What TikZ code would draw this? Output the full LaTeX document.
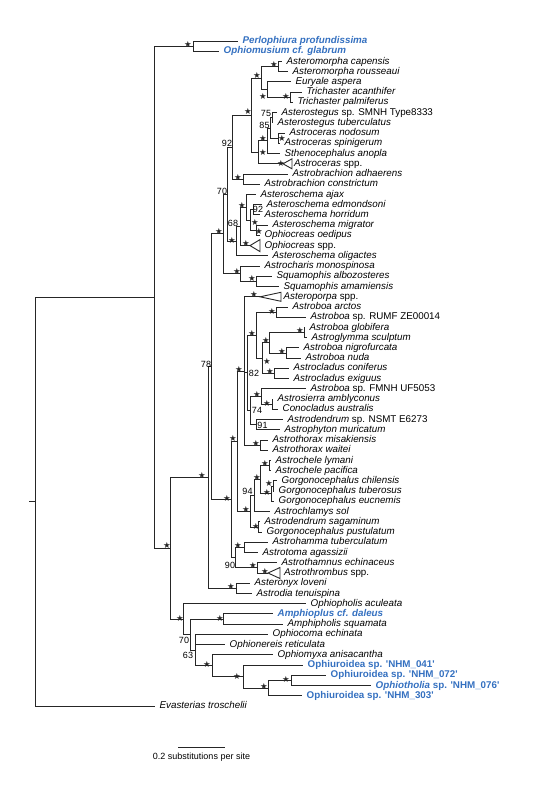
\documentclass[tikz,border=0pt]{standalone}
\usepackage{fontspec}
\setmainfont{Liberation Sans}
\newfontfamily\lab{Liberation Sans}
\newfontfamily\symf{DejaVu Sans}
\usetikzlibrary{calc}
\definecolor{tblue}{RGB}{52,112,192}
\newcommand\nd[4]{\path ($(#3)!.5!(#4)$) coordinate (#1QQ); \coordinate (#1) at (#2,0 |- #1QQ);}
\newcommand\ed[2]{\draw[br] (#1) |- (#2);}
\begin{document}
\begin{tikzpicture}[x=1pt,y=-1pt,
 br/.style={draw=black!85,line width=0.9pt},
 tip/.style={anchor=west,inner xsep=4.5pt,inner ysep=0pt,text height=6.8pt,text depth=1.8pt,font=\lab\fontsize{9.8}{11}\selectfont},
 bl/.style={tip,text=tblue},
 st/.style={inner sep=0pt,font=\symf\fontsize{8.5}{8.5}\selectfont,text=black!85},
 num/.style={inner sep=0pt,font=\lab\fontsize{9}{10}\selectfont}]
\useasboundingbox (0,0) rectangle (557,801);
% ---------- leaves ----------
\node[bl] (l1) at (238,41.0) {\textbf{\textit{Perlophiura profundissima}}};
\node[bl] (l2) at (219,51.2) {\textbf{\textit{Ophiomusium cf. glabrum}}};
\node[tip] (l3) at (282,61.5) {\textit{Asteromorpha capensis}};
\node[tip] (l4) at (288,71.7) {\textit{Asteromorpha rousseaui}};
\node[tip] (l5) at (291,81.9) {\textit{Euryale aspera}};
\node[tip] (l6) at (302,92.2) {\textit{Trichaster acanthifer}};
\node[tip] (l7) at (293,102.4) {\textit{Trichaster palmiferus}};
\node[tip] (l8) at (277,112.6) {\textit{Asterostegus} sp. SMNH Type8333};
\node[tip] (l9) at (273,122.8) {\textit{Asterostegus tuberculatus}};
\node[tip] (l10) at (285,133.1) {\textit{Astroceras nodosum}};
\node[tip] (l11) at (280,143.3) {\textit{Astroceras spinigerum}};
\node[tip] (l12) at (280,153.5) {\textit{Sthenocephalus anopla}};
\coordinate (a13) at (283,163.8);
\draw[br] (a13) -- (292,158.8) -- (292,168.8) -- cycle;
\node[tip,inner xsep=2pt] (l13) at (292,163.8) {\textit{Astroceras} spp.};
\node[tip] (l14) at (288,174.0) {\textit{Astrobrachion adhaerens}};
\node[tip] (l15) at (260,184.2) {\textit{Astrobrachion constrictum}};
\node[tip] (l16) at (256,194.5) {\textit{Asteroschema ajax}};
\node[tip] (l17) at (262,204.7) {\textit{Asteroschema edmondsoni}};
\node[tip] (l18) at (260,214.9) {\textit{Asteroschema horridum}};
\node[tip] (l19) at (268,225.2) {\textit{Asteroschema migrator}};
\node[tip] (l20) at (260,235.4) {\textit{Ophiocreas oedipus}};
\coordinate (a21) at (250,245.6);
\draw[br] (a21) -- (260,239.6) -- (260,251.6) -- cycle;
\node[tip] (l21) at (260,245.6) {\textit{Ophiocreas} spp.};
\node[tip] (l22) at (268,255.8) {\textit{Asteroschema oligactes}};
\node[tip] (l23) at (260,266.1) {\textit{Astrocharis monospinosa}};
\node[tip] (l24) at (272,276.3) {\textit{Squamophis albozosteres}};
\node[tip] (l25) at (279,286.5) {\textit{Squamophis amamiensis}};
\coordinate (a26) at (260,296.8);
\draw[br] (a26) -- (281,292.3) -- (281,301.3) -- cycle;
\node[tip,inner xsep=2.5pt] (l26) at (281,296.8) {\textit{Asteroporpa} spp.};
\node[tip] (l27) at (288,307.0) {\textit{Astroboa arctos}};
\node[tip] (l28) at (306,317.2) {\textit{Astroboa} sp. RUMF ZE00014};
\node[tip] (l29) at (305,327.5) {\textit{Astroboa globifera}};
\node[tip] (l30) at (307,337.7) {\textit{Astroglymma sculptum}};
\node[tip] (l31) at (299,347.9) {\textit{Astroboa nigrofurcata}};
\node[tip] (l32) at (301,358.2) {\textit{Astroboa nuda}};
\node[tip] (l33) at (289,368.4) {\textit{Astrocladus coniferus}};
\node[tip] (l34) at (289,378.6) {\textit{Astrocladus exiguus}};
\node[tip] (l35) at (306,388.8) {\textit{Astroboa} sp. FMNH UF5053};
\node[tip] (l36) at (273,399.1) {\textit{Astrosierra amblyconus}};
\node[tip] (l37) at (278,409.3) {\textit{Conocladus australis}};
\node[tip] (l38) at (283,419.5) {\textit{Astrodendrum} sp. NSMT E6273};
\node[tip] (l39) at (280,429.8) {\textit{Astrophyton muricatum}};
\node[tip] (l40) at (268,440.0) {\textit{Astrothorax misakiensis}};
\node[tip] (l41) at (268,450.2) {\textit{Astrothorax waitei}};
\node[tip] (l42) at (271,460.5) {\textit{Astrochele lymani}};
\node[tip] (l43) at (271,470.7) {\textit{Astrochele pacifica}};
\node[tip] (l44) at (277,480.9) {\textit{Gorgonocephalus chilensis}};
\node[tip] (l45) at (274,491.2) {\textit{Gorgonocephalus tuberosus}};
\node[tip] (l46) at (274,501.4) {\textit{Gorgonocephalus eucnemis}};
\node[tip] (l47) at (270,511.6) {\textit{Astrochlamys sol}};
\node[tip] (l48) at (260,521.8) {\textit{Astrodendrum sagaminum}};
\node[tip] (l49) at (262,532.1) {\textit{Gorgonocephalus pustulatum}};
\node[tip] (l50) at (268,542.3) {\textit{Astrohamma tuberculatum}};
\node[tip] (l51) at (258,552.5) {\textit{Astrotoma agassizii}};
\node[tip] (l52) at (277,562.8) {\textit{Astrothamnus echinaceus}};
\coordinate (a53) at (268,573.0);
\draw[br] (a53) -- (280,567.5) -- (280,578.5) -- cycle;
\node[tip,inner xsep=4pt] (l53) at (280,573.0) {\textit{Astrothrombus} spp.};
\node[tip] (l54) at (250,583.2) {\textit{Asteronyx loveni}};
\node[tip] (l55) at (252,593.5) {\textit{Astrodia tenuispina}};
\node[tip] (l56) at (306,603.7) {\textit{Ophiopholis aculeata}};
\node[bl] (l57) at (273,613.9) {\textbf{\textit{Amphioplus cf. daleus}}};
\node[tip] (l58) at (283,624.2) {\textit{Amphipholis squamata}};
\node[tip] (l59) at (268,634.4) {\textit{Ophiocoma echinata}};
\node[tip] (l60) at (225,644.6) {\textit{Ophionereis reticulata}};
\node[tip] (l61) at (273,654.8) {\textit{Ophiomyxa anisacantha}};
\node[bl] (l62) at (303,665.1) {\textbf{Ophiuroidea sp. 'NHM\_041'}};
\node[bl] (l63) at (326,675.3) {\textbf{Ophiuroidea sp. 'NHM\_072'}};
\node[bl] (l64) at (371,685.5) {\textbf{\textit{Ophiotholia} sp. 'NHM\_076'}};
\node[bl] (l65) at (302,695.8) {\textbf{Ophiuroidea sp. 'NHM\_303'}};
\node[tip] (l66) at (155,706.0) {\textit{Evasterias troschelii}};
% ---------- internal nodes ----------
\nd{n2}{193}{l1.west}{l2.west}
\nd{nam}{278}{l3.west}{l4.west}
\nd{ntr}{290}{l6.west}{l7.west}
\nd{net}{267}{l5.west}{ntr}
\nd{nq}{261}{nam}{net}
\nd{nas}{272}{l8.west}{l9.west}
\nd{nac}{278}{l10.west}{l11.west}
\nd{nz}{270}{nas}{nac}
\nd{nwa}{267}{nz}{l12.west}
\nd{nx}{258}{nwa}{a13}
\nd{nb}{251}{nq}{nx}
\nd{nab}{243}{l14.west}{l15.west}
\nd{nc}{232}{nb}{nab}
\nd{nv}{253}{l17.west}{l18.west}
\nd{nw}{256}{l19.west}{l20.west}
\nd{nu}{250}{nv}{nw}
\nd{nt}{246}{l16.west}{nu}
\nd{ns}{240}{nt}{a21}
\nd{nr}{236}{ns}{l22.west}
\nd{np}{227}{nc}{nr}
\nd{nsq}{256}{l24.west}{l25.west}
\nd{nk}{240}{l23.west}{nsq}
\nd{nh}{223}{np}{nk}
\nd{nar}{276}{l27.west}{l28.west}
\nd{ngl}{304}{l29.west}{l30.west}
\nd{nni}{286}{l31.west}{l32.west}
\nd{nao}{269}{ngl}{nni}
\nd{nacl}{274}{l33.west}{l34.west}
\nd{nat}{262}{nao}{nacl}
\nd{ngz}{256}{nar}{nat}
\nd{nsc}{272}{l36.west}{l37.west}
\nd{nfm}{261}{l35.west}{nsc}
\nd{nad}{256}{l38.west}{l39.west}
\nd{nsf}{250}{nfm}{nad}
\nd{ngy}{247}{ngz}{nsf}
\nd{nthx}{260}{l40.west}{l41.west}
\nd{ngw}{244}{a26}{nthx}
\nd{nche}{269}{l42.west}{l43.west}
\nd{nct}{273}{l44.west}{l45.west}
\nd{ngn}{271}{nct}{l46.west}
\nd{nga}{260}{nche}{ngn}
\nd{nnf}{254}{nga}{l47.west}
\nd{nsg}{258}{l48.west}{l49.west}
\nd{ngc}{250}{nnf}{nsg}
\nd{ngo}{237}{ngw}{ngc}
\nd{nha}{244}{l50.west}{l51.west}
\nd{ntm}{257}{l52.west}{a53}
\nd{nnz}{235}{nha}{ntm}
\nd{ni}{231}{ngo}{nnz}
\nd{nf}{211.5}{nh}{ni}
\nd{ng}{236}{l54.west}{l55.west}
\nd{ndd}{208}{nf}{ng}
\nd{nap}{223}{l57.west}{l58.west}
\nd{nsx}{291}{l63.west}{l64.west}
\nd{nsv}{268}{nsx}{l65.west}
\nd{nfo}{243}{l62.west}{nsv}
\nd{nth}{212}{l61.west}{nfo}
\nd{ntw}{195}{l59.west}{nth}
\nd{non}{190}{nap}{ntw}
\nd{ne}{183}{l56.west}{non}
\nd{ntr3}{170.5}{ndd}{ne}
\nd{none}{154}{n2}{ntr3}
\nd{nroot}{35}{none}{l66.west}
% ---------- branches ----------
\ed{n2}{l1.west}\ed{n2}{l2.west}
\ed{nam}{l3.west}\ed{nam}{l4.west}
\ed{ntr}{l6.west}\ed{ntr}{l7.west}
\ed{net}{l5.west}\ed{net}{ntr}
\ed{nq}{nam}\ed{nq}{net}
\ed{nas}{l8.west}\ed{nas}{l9.west}
\ed{nac}{l10.west}\ed{nac}{l11.west}
\ed{nz}{nas}\ed{nz}{nac}
\ed{nwa}{nz}\ed{nwa}{l12.west}
\ed{nx}{nwa}\ed{nx}{a13}
\ed{nb}{nq}\ed{nb}{nx}
\ed{nab}{l14.west}\ed{nab}{l15.west}
\ed{nc}{nb}\ed{nc}{nab}
\ed{nv}{l17.west}\ed{nv}{l18.west}
\ed{nw}{l19.west}\ed{nw}{l20.west}
\ed{nu}{nv}\ed{nu}{nw}
\ed{nt}{l16.west}\ed{nt}{nu}
\ed{ns}{nt}\ed{ns}{a21}
\ed{nr}{ns}\ed{nr}{l22.west}
\ed{np}{nc}\ed{np}{nr}
\ed{nsq}{l24.west}\ed{nsq}{l25.west}
\ed{nk}{l23.west}\ed{nk}{nsq}
\ed{nh}{np}\ed{nh}{nk}
\ed{nar}{l27.west}\ed{nar}{l28.west}
\ed{ngl}{l29.west}\ed{ngl}{l30.west}
\ed{nni}{l31.west}\ed{nni}{l32.west}
\ed{nao}{ngl}\ed{nao}{nni}
\ed{nacl}{l33.west}\ed{nacl}{l34.west}
\ed{nat}{nao}\ed{nat}{nacl}
\ed{ngz}{nar}\ed{ngz}{nat}
\ed{nsc}{l36.west}\ed{nsc}{l37.west}
\ed{nfm}{l35.west}\ed{nfm}{nsc}
\ed{nad}{l38.west}\ed{nad}{l39.west}
\ed{nsf}{nfm}\ed{nsf}{nad}
\ed{ngy}{ngz}\ed{ngy}{nsf}
\ed{nthx}{l40.west}\ed{nthx}{l41.west}
\ed{ngw}{a26}\ed{ngw}{ngy}\ed{ngw}{nthx}
\ed{nche}{l42.west}\ed{nche}{l43.west}
\ed{nct}{l44.west}\ed{nct}{l45.west}
\ed{ngn}{nct}\ed{ngn}{l46.west}
\ed{nga}{nche}\ed{nga}{ngn}
\ed{nnf}{nga}\ed{nnf}{l47.west}
\ed{nsg}{l48.west}\ed{nsg}{l49.west}
\ed{ngc}{nnf}\ed{ngc}{nsg}
\ed{ngo}{ngw}\ed{ngo}{ngc}
\ed{nha}{l50.west}\ed{nha}{l51.west}
\ed{ntm}{l52.west}\ed{ntm}{a53}
\ed{nnz}{nha}\ed{nnz}{ntm}
\ed{ni}{ngo}\ed{ni}{nnz}
\ed{nf}{nh}\ed{nf}{ni}
\ed{ng}{l54.west}\ed{ng}{l55.west}
\ed{ndd}{nf}\ed{ndd}{ng}
\ed{nap}{l57.west}\ed{nap}{l58.west}
\ed{nsx}{l63.west}\ed{nsx}{l64.west}
\ed{nsv}{nsx}\ed{nsv}{l65.west}
\ed{nfo}{l62.west}\ed{nfo}{nsv}
\ed{nth}{l61.west}\ed{nth}{nfo}
\ed{ntw}{l59.west}\ed{ntw}{l60.west}\ed{ntw}{nth}
\ed{non}{nap}\ed{non}{ntw}
\ed{ne}{l56.west}\ed{ne}{non}
\ed{ntr3}{ndd}\ed{ntr3}{ne}
\ed{none}{n2}\ed{none}{ntr3}
\ed{nroot}{none}\ed{nroot}{l66.west}
\coordinate (rstub) at ([xshift=-6pt]nroot);
\draw[br] (nroot) -- (rstub);
% ---------- support stars ----------
\foreach \p [count=\i] in {(188,44),(274,64),(257,75),(263,96),(286,96),(248,111),(263,138),(282,138),(263,152),(281,163),(238,177),(242,205),(255,222),(259,231),(219,231),(232,240),(246,243),(237,271),(252,278),(254,294),(272,311),(252,333),(300,330),(266,340),(282,351),(267,361),(270,371),(239,369),(257,394),(267,403),(256,443),(233,438),(265,463),(257,477),(269,483),(267,492),(202,475),(227,498),(246,509),(256,526),(167,545),(238,545),(253,565),(265,571),(231,586),(180,618),(220,618),(207,664),(237,676),(286,679),(264,686)}
  \node[st] (s\i) at \p {★};
% ---------- support values ----------
\node[num] (b1) at (227,143.5) {92};
\node[num] (b2) at (266,113.5) {75};
\node[num] (b3) at (264.5,125) {85};
\node[num] (b4) at (222,191.5) {70};
\node[num] (b5) at (258,209.5) {92};
\node[num] (b6) at (233,223.5) {68};
\node[num] (b7) at (206,364) {78};
\node[num] (b8) at (254,373.5) {82};
\node[num] (b9) at (257,410) {74};
\node[num] (b10) at (262.5,425) {91};
\node[num] (b11) at (247.5,491.5) {94};
\node[num] (b12) at (230,565) {90};
\node[num] (b13) at (184,640) {70};
\node[num] (b14) at (188,655) {63};
% ---------- scale bar ----------
\coordinate (sb1) at (178,747);
\coordinate (sb2) at (225,747);
\draw[br] (sb1) -- (sb2);
\node[num] (sbl) at (201.5,757.5) {0.2 substitutions per site};
\end{tikzpicture}
\end{document}
